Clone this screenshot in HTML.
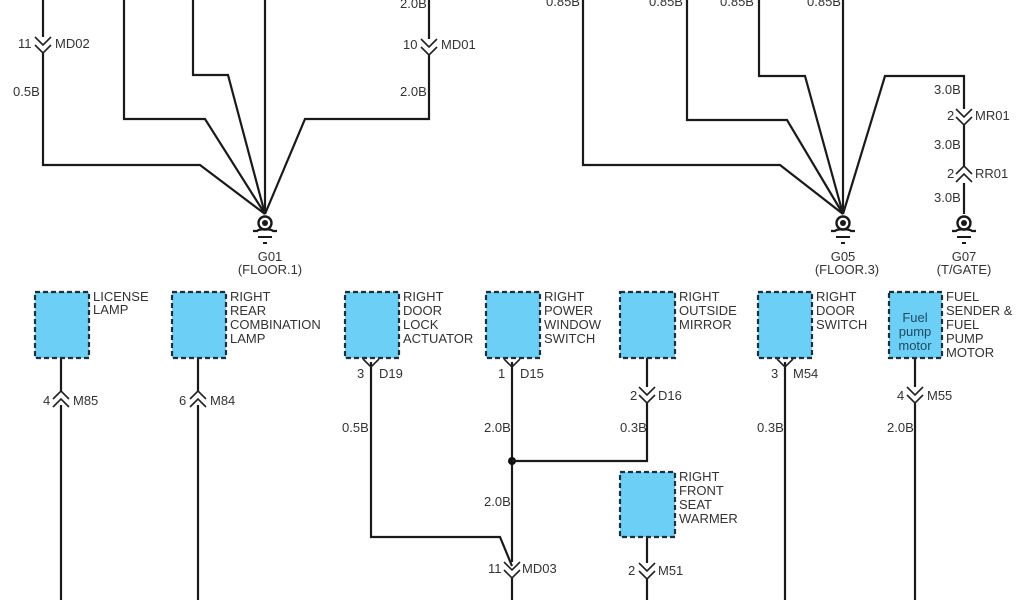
<!DOCTYPE html>
<html><head><meta charset="utf-8"><style>
html,body{margin:0;padding:0;background:#fff;}
svg{display:block;}
text{font-family:"Liberation Sans",sans-serif;font-size:13px;fill:#333;}
.w{stroke:#1a1a1a;stroke-width:2.2;fill:none;stroke-linejoin:miter;}
.c{stroke:#222;stroke-width:1.6;fill:none;}
.box{fill:#6ccff6;stroke:#1f2f3a;stroke-width:2.2;stroke-dasharray:5,3;}
</style></head><body>
<svg width="1024" height="600" viewBox="0 0 1024 600">
<defs>
<g id="dn"><path class="c" d="M-8,-7 L0,1 L8,-7 M-8,1 L0,9 L8,1"/></g>
<g id="up"><path class="c" d="M-8,7 L0,-1 L8,7 M-8,-1 L0,-9 L8,-1"/></g>
<g id="gnd">
<circle cx="0" cy="0" r="6.5" fill="#fff" stroke="#1a1a1a" stroke-width="2.4"/>
<circle cx="0" cy="0" r="3" fill="#1a1a1a"/>
<path d="M-12,8 L-8,8 Q-6,6 0,6.5 Q6,6 8,8 L12,8" stroke="#1a1a1a" stroke-width="2.2" fill="none"/>
<line x1="-7" y1="14" x2="7" y2="14" stroke="#1a1a1a" stroke-width="2"/>
<line x1="-2" y1="20" x2="2" y2="20" stroke="#1a1a1a" stroke-width="2"/>
</g>
<g id="tab"><path class="c" d="M-8,0 L0,8 L8,0"/></g>
</defs>

<!-- TOP LEFT -->
<path class="w" d="M43,0 V37 M43,53 V165 H200 L265,214"/>
<path class="w" d="M124,0 V119 H205 L265,214"/>
<path class="w" d="M193,0 V75 H228 L265,214"/>
<path class="w" d="M265,0 V214"/>
<path class="w" d="M429,0 V39 M429,55 V119 H305 L265,214"/>
<use href="#dn" x="43" y="44"/>
<use href="#dn" x="429" y="46"/>
<text x="18" y="48">11</text><text x="55" y="48">MD02</text>
<text x="13" y="96">0.5B</text>
<text x="400" y="8">2.0B</text>
<text x="403" y="49">10</text><text x="441" y="49">MD01</text>
<text x="400" y="96">2.0B</text>
<use href="#gnd" x="265" y="223"/>
<text x="270" y="261" text-anchor="middle">G01</text>
<text x="270" y="274" text-anchor="middle">(FLOOR.1)</text>

<!-- TOP RIGHT -->
<path class="w" d="M583,0 V165 H780 L843,214"/>
<path class="w" d="M687,0 V120 H787 L843,214"/>
<path class="w" d="M759,0 V76 H805 L843,214"/>
<path class="w" d="M843,0 V214"/>
<path class="w" d="M843,214 L885,76 H964 V109 M964,125 V167 M964,183 V214"/>
<use href="#dn" x="964" y="116"/>
<use href="#up" x="964" y="175"/>
<text x="546" y="6">0.85B</text>
<text x="649" y="6">0.85B</text>
<text x="720" y="6">0.85B</text>
<text x="807" y="6">0.85B</text>
<text x="934" y="94">3.0B</text>
<text x="947" y="120">2</text><text x="975" y="120">MR01</text>
<text x="934" y="149">3.0B</text>
<text x="947" y="178">2</text><text x="975" y="178">RR01</text>
<text x="934" y="202">3.0B</text>
<use href="#gnd" x="964" y="223"/>
<use href="#gnd" x="843" y="223"/>
<text x="843" y="261" text-anchor="middle">G05</text>
<text x="847" y="274" text-anchor="middle">(FLOOR.3)</text>
<text x="964" y="261" text-anchor="middle">G07</text>
<text x="964" y="274" text-anchor="middle">(T/GATE)</text>

<!-- BOTTOM wires -->
<path class="w" d="M61,358 V392 M61,405 V600"/>
<use href="#up" x="61" y="400"/>
<text x="43" y="405">4</text><text x="73" y="405">M85</text>
<path class="w" d="M198,358 V392 M198,405 V600"/>
<use href="#up" x="198" y="400"/>
<text x="179" y="405">6</text><text x="210" y="405">M84</text>

<path class="w" d="M371,362 V537 H500 L512,566"/>
<use href="#tab" x="371" y="359"/>
<text x="357" y="378">3</text><text x="379" y="378">D19</text>
<text x="342" y="432">0.5B</text>

<path class="w" d="M512,362 V562 M512,578 V600"/>
<use href="#tab" x="512" y="359"/>
<text x="498" y="378">1</text><text x="520" y="378">D15</text>
<text x="484" y="432">2.0B</text>
<text x="484" y="506">2.0B</text>
<circle cx="512" cy="461" r="4" fill="#111"/>
<path class="w" d="M512,461 H647 V403 M647,387 V358"/>
<use href="#dn" x="647" y="394"/>
<text x="630" y="400">2</text><text x="658" y="400">D16</text>
<text x="620" y="432">0.3B</text>
<use href="#dn" x="512" y="569"/>
<text x="488" y="573">11</text><text x="522" y="573">MD03</text>

<path class="w" d="M647,537 V563 M647,579 V600"/>
<use href="#dn" x="647" y="570"/>
<text x="628" y="575">2</text><text x="658" y="575">M51</text>

<path class="w" d="M785,362 V600"/>
<use href="#tab" x="785" y="359"/>
<text x="771" y="378">3</text><text x="793" y="378">M54</text>
<text x="757" y="432">0.3B</text>

<path class="w" d="M915,358 V387 M915,403 V600"/>
<use href="#dn" x="915" y="394"/>
<text x="897" y="400">4</text><text x="927" y="400">M55</text>
<text x="887" y="432">2.0B</text>

<!-- BOXES -->
<rect class="box" x="35" y="292" width="54" height="66"/>
<text x="93" y="301">LICENSE</text><text x="93" y="314">LAMP</text>
<rect class="box" x="172" y="292" width="54" height="66"/>
<text x="230" y="301">RIGHT</text><text x="230" y="315">REAR</text><text x="230" y="329">COMBINATION</text><text x="230" y="343">LAMP</text>
<rect class="box" x="345" y="292" width="54" height="66"/>
<text x="403" y="301">RIGHT</text><text x="403" y="315">DOOR</text><text x="403" y="329">LOCK</text><text x="403" y="343">ACTUATOR</text>
<rect class="box" x="486" y="292" width="54" height="66"/>
<text x="544" y="301">RIGHT</text><text x="544" y="315">POWER</text><text x="544" y="329">WINDOW</text><text x="544" y="343">SWITCH</text>
<rect class="box" x="620" y="292" width="55" height="66"/>
<text x="679" y="301">RIGHT</text><text x="679" y="315">OUTSIDE</text><text x="679" y="329">MIRROR</text>
<rect class="box" x="620" y="472" width="55" height="65"/>
<text x="679" y="481">RIGHT</text><text x="679" y="495">FRONT</text><text x="679" y="509">SEAT</text><text x="679" y="523">WARMER</text>
<rect class="box" x="758" y="292" width="54" height="66"/>
<text x="816" y="301">RIGHT</text><text x="816" y="315">DOOR</text><text x="816" y="329">SWITCH</text>
<rect class="box" x="889" y="292" width="53" height="66"/>
<text x="915" y="322" text-anchor="middle" style="fill:#1f4a63">Fuel</text>
<text x="915" y="336" text-anchor="middle" style="fill:#1f4a63">pump</text>
<text x="915" y="350" text-anchor="middle" style="fill:#1f4a63">motor</text>
<text x="946" y="301">FUEL</text><text x="946" y="315">SENDER &amp;</text><text x="946" y="329">FUEL</text><text x="946" y="343">PUMP</text><text x="946" y="357">MOTOR</text>
</svg>
</body></html>
